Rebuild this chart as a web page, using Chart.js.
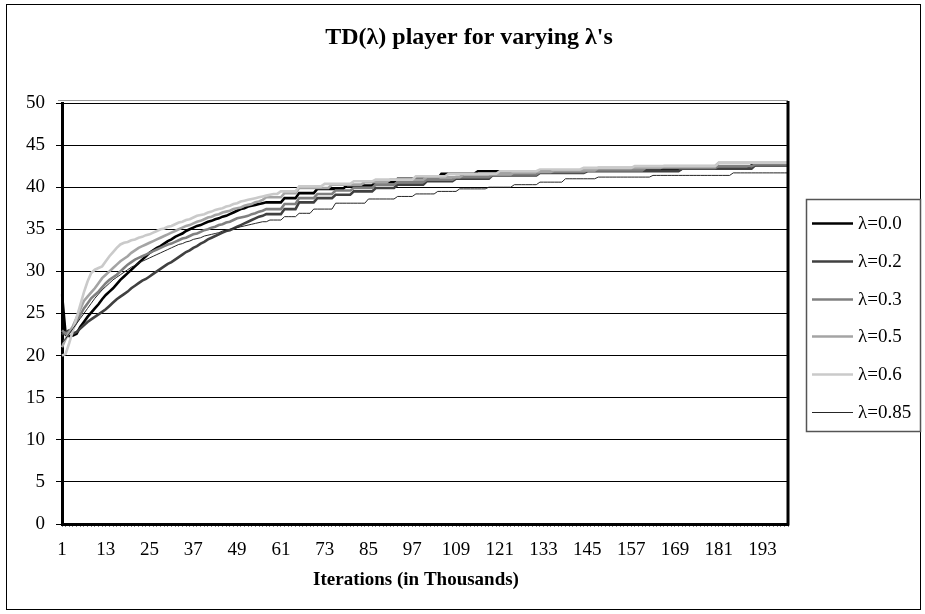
<!DOCTYPE html>
<html>
<head>
<meta charset="utf-8">
<script src="https://cdn.jsdelivr.net/npm/chart.js@4.4.1/dist/chart.umd.min.js"></script>
<style>
html,body{margin:0;padding:0;background:#fff;}
#wrap{width:925px;height:614px;position:relative;}
</style>
</head>
<body>
<div id="wrap"><canvas id="c" width="925" height="614"></canvas></div>
<script>
// ---------- data ----------
const iterations = Array.from({length: 200}, (_, i) => String(i + 1));
const xTickLabels = ['1','13','25','37','49','61','73','85','97','109','121','133','145','157','169','181','193'];
const yTickValues = [0,5,10,15,20,25,30,35,40,45,50];
const seriesNames = ['λ=0.0','λ=0.2','λ=0.3','λ=0.5','λ=0.6','λ=0.85'];
const chartTitle = "TD(λ) player for varying λ's";
const xAxisTitle = 'Iterations (in Thousands)';

const lambda00 = [
27.3,22.5,22.3,22.4,22.6,23.4,24.0,24.6,25.1,25.6,
26.1,26.7,27.2,27.6,28.0,28.5,29.0,29.4,29.8,30.2,
30.6,31.0,31.4,31.8,32.2,32.5,32.8,33.0,33.3,33.6,
33.8,34.1,34.3,34.5,34.8,35.0,35.2,35.4,35.5,35.7,
35.9,36.0,36.2,36.3,36.5,36.6,36.8,37.0,37.2,37.4,
37.5,37.7,37.8,37.9,38.0,38.1,38.2,38.2,38.2,38.2,
38.2,38.7,38.7,38.7,38.7,39.3,39.3,39.3,39.3,39.3,
39.8,39.8,39.8,39.8,39.8,39.8,39.8,39.8,40.2,40.2,
40.2,40.2,40.2,40.2,40.2,40.2,40.6,40.6,40.6,40.6,
40.6,40.6,41.0,41.0,41.0,41.0,41.0,41.0,41.0,41.0,
41.0,41.0,41.0,41.0,41.6,41.6,41.6,41.6,41.6,41.6,
41.6,41.6,41.6,41.6,41.9,41.9,41.9,41.9,41.9,41.9,
41.9,41.9,41.9,41.9,41.9,41.9,41.9,41.9,41.9,41.9,
41.9,41.9,41.9,41.9,41.9,41.9,41.9,41.9,41.9,41.9,
41.9,41.9,41.9,41.9,42.0,42.0,42.0,42.0,42.0,42.0,
42.0,42.0,42.0,42.0,42.0,42.0,42.0,42.0,42.0,42.0,
42.0,42.0,42.0,42.0,42.0,42.0,42.0,42.0,42.0,42.0,
42.2,42.2,42.2,42.2,42.2,42.2,42.2,42.2,42.2,42.2,
42.2,42.2,42.2,42.2,42.2,42.2,42.2,42.2,42.2,42.6,
42.6,42.6,42.6,42.6,42.6,42.6,42.6,42.6,42.6,42.6
];
const lambda02 = [
22.5,22.8,23.0,22.6,22.8,23.2,23.6,24.0,24.3,24.6,
24.9,25.2,25.5,25.9,26.3,26.7,27.0,27.3,27.6,28.0,
28.3,28.6,28.9,29.1,29.4,29.7,30.0,30.3,30.6,30.9,
31.1,31.4,31.7,32.0,32.3,32.5,32.8,33.0,33.3,33.5,
33.8,34.0,34.2,34.4,34.6,34.8,34.9,35.1,35.3,35.5,
35.7,35.9,36.1,36.3,36.5,36.6,36.8,36.8,36.8,36.8,
36.8,37.4,37.4,37.4,37.4,38.2,38.2,38.2,38.2,38.2,
38.7,38.7,38.7,38.7,38.7,39.1,39.1,39.1,39.1,39.1,
39.5,39.5,39.5,39.5,39.5,39.5,39.9,39.9,39.9,39.9,
39.9,39.9,40.3,40.3,40.3,40.3,40.3,40.3,40.3,40.3,
40.7,40.7,40.7,40.7,40.7,40.7,40.7,40.7,41.0,41.0,
41.0,41.0,41.0,41.0,41.0,41.0,41.0,41.0,41.4,41.4,
41.4,41.4,41.4,41.4,41.4,41.4,41.4,41.4,41.4,41.4,
41.4,41.7,41.7,41.7,41.7,41.7,41.7,41.7,41.7,41.7,
41.7,41.7,41.7,41.7,41.9,41.9,41.9,41.9,41.9,41.9,
41.9,41.9,41.9,41.9,41.9,41.9,41.9,41.9,41.9,41.9,
41.9,41.9,41.9,41.9,41.9,41.9,41.9,41.9,41.9,41.9,
42.2,42.2,42.2,42.2,42.2,42.2,42.2,42.2,42.2,42.2,
42.2,42.2,42.2,42.2,42.2,42.2,42.2,42.2,42.2,42.2,
42.6,42.6,42.6,42.6,42.6,42.6,42.6,42.6,42.6,42.6
];
const lambda03 = [
23.0,22.6,22.8,23.2,24.0,24.8,25.6,26.2,26.8,27.2,
27.6,28.1,28.6,29.0,29.3,29.6,30.0,30.4,30.8,31.1,
31.4,31.6,31.8,32.0,32.2,32.4,32.6,32.8,33.0,33.2,
33.3,33.5,33.7,33.9,34.0,34.2,34.4,34.5,34.7,34.9,
35.0,35.2,35.3,35.5,35.6,35.8,35.9,36.1,36.3,36.4,
36.5,36.6,36.8,36.9,37.1,37.2,37.4,37.4,37.4,37.4,
37.4,38.0,38.0,38.0,38.0,38.7,38.7,38.7,38.7,38.7,
39.2,39.2,39.2,39.2,39.2,39.6,39.6,39.6,39.6,39.6,
39.9,39.9,39.9,39.9,39.9,39.9,40.3,40.3,40.3,40.3,
40.3,40.3,40.6,40.6,40.6,40.6,40.6,40.6,40.6,40.6,
40.9,40.9,40.9,40.9,40.9,40.9,40.9,40.9,41.2,41.2,
41.2,41.2,41.2,41.2,41.2,41.2,41.2,41.2,41.5,41.5,
41.5,41.5,41.5,41.5,41.5,41.5,41.5,41.5,41.5,41.5,
41.5,41.8,41.8,41.8,41.8,41.8,41.8,41.8,41.8,41.8,
41.8,41.8,41.8,41.8,42.0,42.0,42.0,42.0,42.0,42.0,
42.0,42.0,42.0,42.0,42.0,42.0,42.0,42.0,42.0,42.0,
42.3,42.3,42.3,42.3,42.3,42.3,42.3,42.3,42.3,42.3,
42.3,42.3,42.3,42.3,42.3,42.3,42.3,42.3,42.3,42.3,
42.5,42.5,42.5,42.5,42.5,42.5,42.5,42.5,42.5,42.5,
42.7,42.7,42.7,42.7,42.7,42.7,42.7,42.7,42.7,42.7
];
const lambda05 = [
21.0,22.0,22.8,23.5,24.5,25.5,26.5,27.0,27.5,28.0,
28.6,29.2,29.6,30.0,30.4,30.8,31.2,31.5,31.8,32.2,
32.5,32.8,33.0,33.2,33.4,33.6,33.8,34.0,34.2,34.4,
34.6,34.8,35.0,35.2,35.4,35.5,35.7,35.9,36.0,36.2,
36.4,36.5,36.7,36.8,37.0,37.1,37.2,37.4,37.5,37.6,
37.8,37.9,38.0,38.2,38.3,38.5,38.8,38.8,38.8,38.8,
38.8,39.3,39.3,39.3,39.3,39.9,39.9,39.9,39.9,39.9,
39.9,39.9,39.9,39.9,40.3,40.3,40.3,40.3,40.3,40.3,
40.3,40.3,40.3,40.6,40.6,40.6,40.6,40.6,40.6,40.6,
40.9,40.9,40.9,40.9,40.9,40.9,40.9,40.9,40.9,40.9,
41.2,41.2,41.2,41.2,41.2,41.2,41.2,41.2,41.2,41.2,
41.5,41.5,41.5,41.5,41.5,41.5,41.5,41.5,41.5,41.5,
41.5,41.5,41.5,41.5,41.8,41.8,41.8,41.8,41.8,41.8,
41.8,41.8,41.8,41.8,41.8,42.0,42.0,42.0,42.0,42.0,
42.0,42.0,42.0,42.0,42.0,42.0,42.0,42.3,42.3,42.3,
42.3,42.3,42.3,42.3,42.3,42.3,42.3,42.3,42.3,42.3,
42.3,42.3,42.3,42.3,42.3,42.5,42.5,42.5,42.5,42.5,
42.5,42.5,42.5,42.5,42.5,42.5,42.5,42.5,42.5,42.5,
42.9,42.9,42.9,42.9,42.9,42.9,42.9,42.9,42.9,42.9,
42.9,42.9,42.9,42.9,42.9,42.9,42.9,42.9,42.9,42.9
];
const lambda06 = [
20.0,20.2,21.5,23.0,24.5,26.0,27.5,28.8,29.8,30.2,
30.4,30.6,31.2,31.8,32.3,32.8,33.2,33.4,33.5,33.7,
33.8,34.0,34.1,34.3,34.4,34.6,34.8,35.0,35.1,35.3,
35.4,35.6,35.8,35.9,36.1,36.2,36.4,36.6,36.7,36.8,
37.0,37.1,37.3,37.4,37.5,37.7,37.8,38.0,38.1,38.3,
38.4,38.5,38.6,38.7,38.8,38.9,39.0,39.1,39.2,39.2,
39.5,39.5,39.5,39.5,39.5,40.1,40.1,40.1,40.1,40.1,
40.1,40.1,40.4,40.4,40.4,40.4,40.4,40.4,40.4,40.4,
40.7,40.7,40.7,40.7,40.7,40.7,40.9,40.9,40.9,40.9,
40.9,40.9,40.9,40.9,40.9,40.9,40.9,41.3,41.3,41.3,
41.3,41.3,41.3,41.3,41.3,41.3,41.6,41.6,41.6,41.6,
41.6,41.6,41.6,41.6,41.6,41.6,41.6,41.6,41.6,41.6,
41.9,41.9,41.9,41.9,41.9,41.9,41.9,41.9,41.9,41.9,
41.9,42.1,42.1,42.1,42.1,42.1,42.1,42.1,42.1,42.1,
42.1,42.1,42.1,42.3,42.3,42.3,42.3,42.3,42.3,42.3,
42.3,42.3,42.3,42.3,42.3,42.3,42.3,42.5,42.5,42.5,
42.5,42.5,42.5,42.5,42.5,42.5,42.5,42.5,42.5,42.5,
42.5,42.5,42.5,42.5,42.5,42.5,42.5,42.5,42.5,42.5,
42.9,42.9,42.9,42.9,42.9,42.9,42.9,42.9,42.9,42.9,
42.9,42.9,42.9,42.9,42.9,42.9,42.9,42.9,42.9,42.9
];
const lambda085 = [
21.5,22.0,22.6,23.2,23.8,24.4,25.0,25.6,26.2,26.8,
27.3,27.8,28.2,28.6,29.0,29.3,29.6,29.9,30.2,30.5,
30.7,31.0,31.2,31.4,31.6,31.8,32.0,32.2,32.4,32.6,
32.8,33.0,33.2,33.3,33.5,33.6,33.8,33.9,34.0,34.2,
34.3,34.4,34.5,34.6,34.8,34.9,35.0,35.1,35.2,35.3,
35.4,35.5,35.6,35.7,35.8,35.9,35.9,36.1,36.1,36.1,
36.1,36.5,36.5,36.5,36.5,36.9,36.9,36.9,36.9,37.4,
37.4,37.4,37.4,37.4,37.4,38.1,38.1,38.1,38.1,38.1,
38.1,38.1,38.1,38.1,38.6,38.6,38.6,38.6,38.6,38.6,
38.6,38.6,38.9,38.9,38.9,38.9,38.9,39.2,39.2,39.2,
39.2,39.2,39.2,39.5,39.5,39.5,39.5,39.5,39.5,39.8,
39.8,39.8,39.8,39.8,39.8,39.8,39.8,40.0,40.0,40.0,
40.0,40.0,40.0,40.0,40.3,40.3,40.3,40.3,40.3,40.3,
40.3,40.6,40.6,40.6,40.6,40.6,40.6,40.6,41.0,41.0,
41.0,41.0,41.0,41.0,41.0,41.0,41.0,41.2,41.2,41.2,
41.2,41.2,41.2,41.2,41.2,41.2,41.2,41.2,41.2,41.2,
41.2,41.2,41.4,41.4,41.4,41.4,41.4,41.4,41.4,41.4,
41.4,41.4,41.4,41.4,41.4,41.4,41.4,41.4,41.4,41.4,
41.4,41.4,41.4,41.4,41.7,41.7,41.7,41.7,41.7,41.7,
41.7,41.7,41.7,41.7,41.7,41.7,41.7,41.7,41.7,41.7
];

// ---------- styles ----------
const seriesData = [lambda00, lambda02, lambda03, lambda05, lambda06, lambda085];
const seriesColors = ['#000000', '#404040', '#808080', '#a4a4a4', '#cacaca', '#262626'];
const seriesWidths = [2.6, 2.6, 2.6, 2.6, 2.6, 1];
const FONT = "'Liberation Serif', 'Times New Roman', serif";

const datasets = seriesNames.map((name, i) => ({
  label: name,
  data: seriesData[i],
  borderColor: seriesColors[i],
  backgroundColor: seriesColors[i],
  borderWidth: seriesWidths[i],
  pointRadius: 0,
  pointHoverRadius: 0,
  fill: false,
  tension: 0,
  order: seriesNames.length - 1 - i
}));

const framePlugin = {
  id: 'framePlugin',
  beforeDraw(chart) {
    const ctx = chart.ctx;
    ctx.save();
    ctx.fillStyle = '#ffffff';
    ctx.fillRect(0, 0, chart.width, chart.height);
    ctx.restore();
  },
  afterDraw(chart) {
    const {ctx, chartArea: a} = chart;
    ctx.save();
    // plot area: right border and top line
    ctx.strokeStyle = '#000';
    ctx.lineWidth = 3;
    ctx.beginPath();
    ctx.moveTo(Math.round(a.right), a.top - 2);
    ctx.lineTo(Math.round(a.right), a.bottom + 1.5);
    ctx.stroke();
    ctx.strokeStyle = '#9a9a9a';
    ctx.lineWidth = 1;
    ctx.beginPath();
    ctx.moveTo(a.left - 4, Math.round(a.top) - 2.5);
    ctx.lineTo(a.right, Math.round(a.top) - 2.5);
    ctx.stroke();
    // outer chart border
    ctx.strokeStyle = '#000';
    ctx.lineWidth = 1;
    ctx.strokeRect(6.5, 4.5, 914, 605);
    // chart title (centred over the whole chart object)
    ctx.fillStyle = '#000';
    ctx.textAlign = 'center';
    ctx.textBaseline = 'alphabetic';
    ctx.font = 'bold 24px ' + FONT;
    ctx.fillText(chartTitle, 469, 44);
    // x axis title
    ctx.font = 'bold 19px ' + FONT;
    ctx.fillText(xAxisTitle, 416, 585);
    // legend box
    const lx = 806.5, ly = 199.5, lw = 114, lh = 232;
    ctx.strokeStyle = '#555';
    ctx.lineWidth = 1.5;
    ctx.strokeRect(lx, ly, lw, lh);
    ctx.font = '19px ' + FONT;
    ctx.textAlign = 'left';
    ctx.textBaseline = 'middle';
    chart.data.datasets.forEach((ds, i) => {
      const cy = 223 + i * 37.8;
      ctx.strokeStyle = ds.borderColor;
      ctx.lineWidth = ds.borderWidth;
      ctx.beginPath();
      ctx.moveTo(812, Math.round(cy) + 0.5);
      ctx.lineTo(853, Math.round(cy) + 0.5);
      ctx.stroke();
      ctx.fillStyle = '#000';
      ctx.fillText(ds.label, 858, cy + 1);
    });
    ctx.restore();
  }
};

new Chart(document.getElementById('c'), {
  type: 'line',
  data: { labels: iterations, datasets: datasets },
  options: {
    responsive: false,
    animation: false,
    events: [],
    layout: { padding: { left: 0, right: 137, top: 103, bottom: 0 } },
    plugins: {
      legend: { display: false },
      tooltip: { enabled: false },
      title: { display: false }
    },
    scales: {
      x: {
        type: 'category',
        offset: false,
        grid: { display: true, drawOnChartArea: false, drawTicks: true, tickLength: 3, color: '#888', lineWidth: 1 },
        border: { display: true, color: '#000', width: 3 },
        ticks: {
          autoSkip: false,
          maxRotation: 0,
          minRotation: 0,
          padding: 12,
          color: '#000',
          font: { family: FONT, size: 19 },
          callback: function (v, i) {
            const lab = this.getLabelForValue(v);
            return xTickLabels.includes(lab) ? lab : '';
          }
        },
        title: { display: false },
        afterFit: (s) => { s.height = 90; }
      },
      y: {
        min: 0,
        max: 50,
        afterBuildTicks: (s) => { s.ticks = yTickValues.map(v => ({ value: v })); },
        grid: { color: '#000', lineWidth: 1, drawTicks: true, tickLength: 6 },
        border: { display: true, color: '#000', width: 3 },
        ticks: {
          padding: 11,
          color: '#000',
          font: { family: FONT, size: 19 }
        },
        afterFit: (s) => { s.width = 62; }
      }
    }
  },
  plugins: [framePlugin]
});
</script>
</body>
</html>
